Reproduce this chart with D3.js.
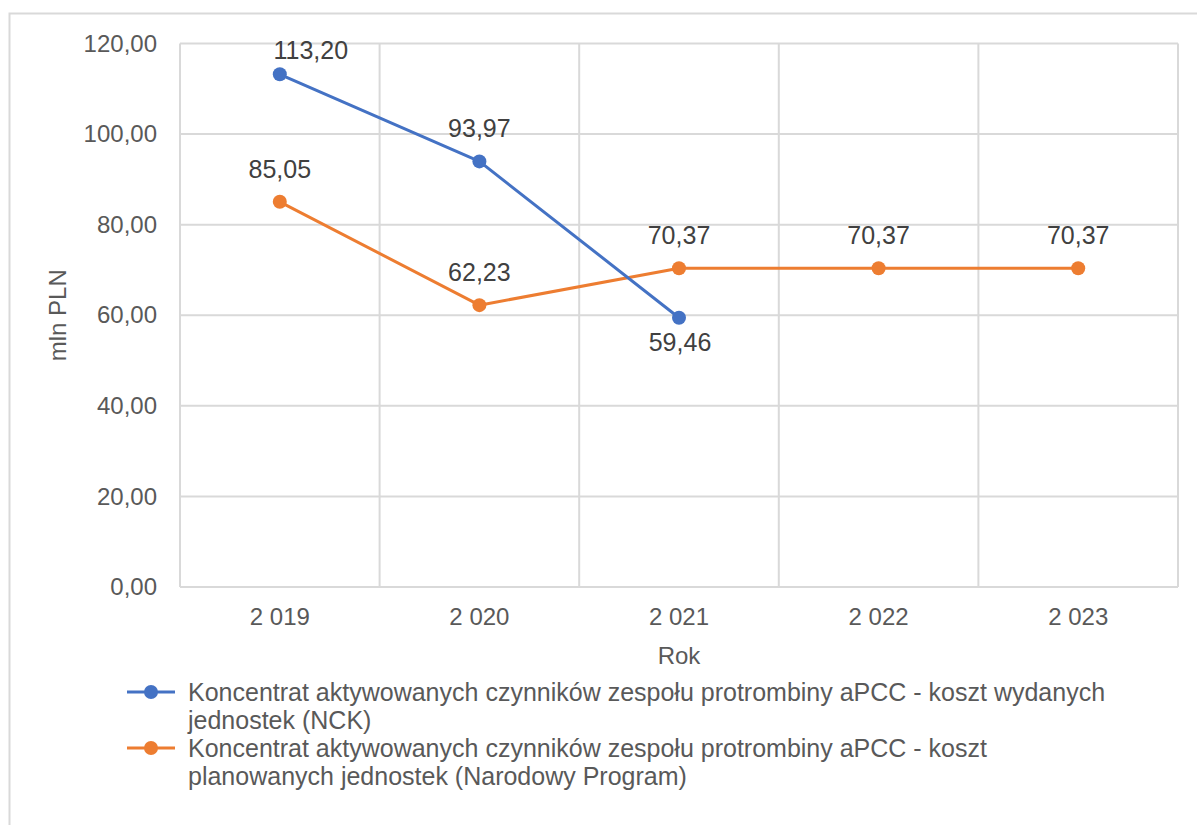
<!DOCTYPE html>
<html>
<head>
<meta charset="utf-8">
<script src="https://cdn.jsdelivr.net/npm/d3@7"></script>
<style>
  html, body { margin: 0; padding: 0; background: #fff; }
  svg { display: block; font-family: "Liberation Sans", Arial, sans-serif; }
</style>
</head>
<body>
<svg id="chart" width="1197" height="825"></svg>
<script>
// Years on the category axis and their printed labels
const years = [2019, 2020, 2021, 2022, 2023];
const yearLabels = ["2 019", "2 020", "2 021", "2 022", "2 023"];

// Cost series, mln PLN
const nckValues = [113.20, 93.97, 59.46, null, null];
const programValues = [85.05, 62.23, 70.37, 70.37, 70.37];

// Value axis ticks
const yTicks = [0, 20, 40, 60, 80, 100, 120];

const seriesNames = [
  ["Koncentrat aktywowanych czynników zespołu protrombiny aPCC - koszt wydanych", "jednostek (NCK)"],
  ["Koncentrat aktywowanych czynników zespołu protrombiny aPCC - koszt", "planowanych jednostek (Narodowy Program)"]
];
const seriesColors = ["#4472C4", "#ED7D31"];

const svg = d3.select("#chart");
const textColor = "#595959";
const labelColor = "#404040";
const gridColor = "#d9d9d9";
const fs = "24px";
const fsBig = "25px";
const fmt = v => v.toFixed(2).replace(".", ",");

// Outer frame of the chart area
svg.append("rect")
  .attr("x", 9.5).attr("y", 13.5)
  .attr("width", 1250).attr("height", 900)
  .attr("fill", "none").attr("stroke", gridColor).attr("stroke-width", 2);

const plot = { left: 180, right: 1178, top: 43.5, bottom: 587 };

const x = d3.scaleBand().domain(years).range([plot.left, plot.right]).padding(0);
const y = d3.scaleLinear().domain([0, 120]).range([plot.bottom, plot.top]);

// Horizontal gridlines
svg.append("g").selectAll("line").data(yTicks).join("line")
  .attr("x1", plot.left).attr("x2", plot.right)
  .attr("y1", d => y(d)).attr("y2", d => y(d))
  .attr("stroke", gridColor).attr("stroke-width", 2);

// Vertical gridlines at category boundaries
const bounds = years.map(d => x(d)).concat([plot.right]);
svg.append("g").selectAll("line").data(bounds).join("line")
  .attr("x1", d => d).attr("x2", d => d)
  .attr("y1", plot.top).attr("y2", plot.bottom)
  .attr("stroke", gridColor).attr("stroke-width", 2);

// Y axis tick labels
const yAxis = d3.axisLeft(y).tickValues(yTicks).tickFormat(fmt).tickSize(0).tickPadding(23);
const gy = svg.append("g").attr("transform", `translate(${plot.left},0)`).call(yAxis);
gy.select(".domain").remove();
gy.selectAll("text").attr("fill", textColor).style("font-size", fs)
  .attr("font-family", "Liberation Sans, Arial, sans-serif");

// X axis tick labels
const xAxis = d3.axisBottom(x).tickFormat((d, i) => yearLabels[i]).tickSize(0).tickPadding(21);
const gx = svg.append("g").attr("transform", `translate(0,${plot.bottom})`).call(xAxis);
gx.select(".domain").remove();
gx.selectAll("text").attr("fill", textColor).style("font-size", fs)
  .attr("font-family", "Liberation Sans, Arial, sans-serif");

// Axis titles
svg.append("text")
  .attr("x", (plot.left + plot.right) / 2).attr("y", 664)
  .attr("text-anchor", "middle").attr("fill", textColor).style("font-size", fs)
  .text("Rok");
svg.append("text")
  .attr("transform", `translate(66,${(plot.top + plot.bottom) / 2}) rotate(-90)`)
  .attr("text-anchor", "middle").attr("fill", textColor).style("font-size", fs)
  .text("mln PLN");

const cx = d => x(d) + x.bandwidth() / 2;

// Label placement per point: [dx, dy of text centre from the marker]
function drawSeries(values, color, place) {
  const pts = years.map((yr, i) => ({ yr, v: values[i], p: place[i] }))
    .filter(p => p.v != null);
  const line = d3.line().x(p => cx(p.yr)).y(p => y(p.v));
  svg.append("path").datum(pts).attr("d", line)
    .attr("fill", "none").attr("stroke", color).attr("stroke-width", 3)
    .attr("stroke-linejoin", "round");
  svg.append("g").selectAll("circle").data(pts).join("circle")
    .attr("cx", p => cx(p.yr)).attr("cy", p => y(p.v)).attr("r", 7)
    .attr("fill", color);
  svg.append("g").selectAll("text").data(pts).join("text")
    .attr("x", p => cx(p.yr) + p.p[0])
    .attr("y", p => y(p.v) + p.p[1])
    .attr("dy", "0.35em")
    .attr("text-anchor", "middle").attr("fill", labelColor).style("font-size", fsBig)
    .text(p => fmt(p.v));
}

drawSeries(programValues, seriesColors[1], [[0, -33], [0, -33], [0, -33], [0, -33], [0, -33]]);
drawSeries(nckValues, seriesColors[0], [[31, -24], [0, -33], [1, 25]]);

// Legend
const legendTops = [692, 748];
seriesNames.forEach((lines, i) => {
  const g = svg.append("g");
  const ly = legendTops[i];
  g.append("line").attr("x1", 127).attr("x2", 175).attr("y1", ly).attr("y2", ly)
    .attr("stroke", seriesColors[i]).attr("stroke-width", 3);
  g.append("circle").attr("cx", 151).attr("cy", ly).attr("r", 7).attr("fill", seriesColors[i]);
  lines.forEach((t, j) => {
    g.append("text").attr("x", 188).attr("y", ly + j * 28).attr("dy", "0.35em")
      .attr("fill", textColor).style("font-size", fsBig).text(t);
  });
});
</script>
</body>
</html>
